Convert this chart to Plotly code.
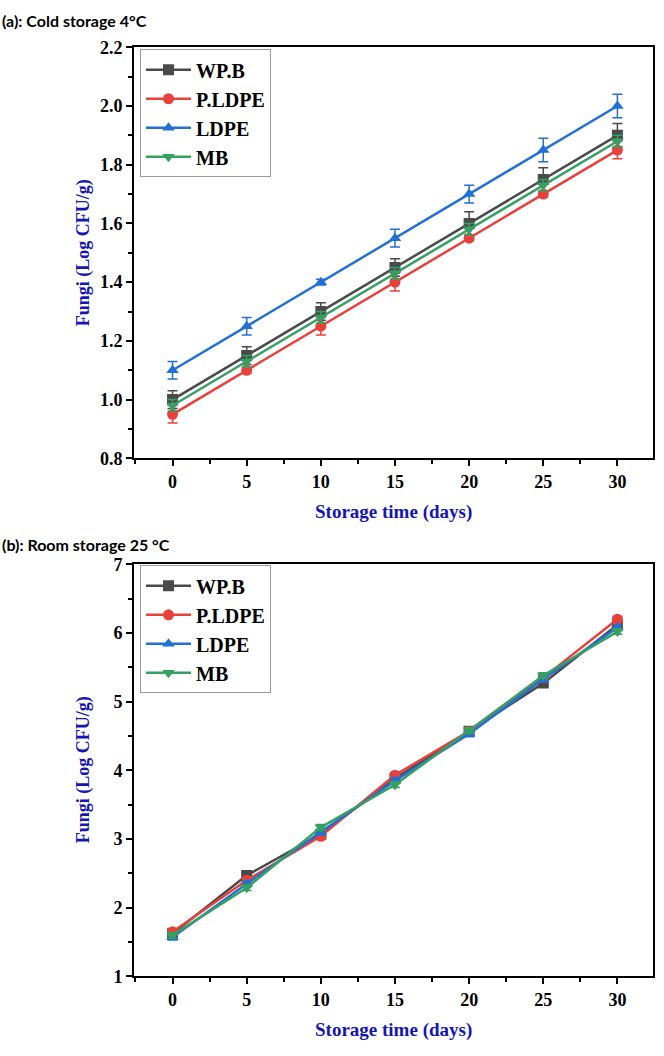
import plotly.graph_objects as go

days = [0, 5, 10, 15, 20, 25, 30]
series_names = ["WP.B", "P.LDPE", "LDPE", "MB"]

# (a) Cold storage 4 °C
cold_wpb = [1.00, 1.15, 1.30, 1.45, 1.60, 1.75, 1.90]
cold_pldpe = [0.95, 1.10, 1.25, 1.40, 1.55, 1.70, 1.85]
cold_ldpe = [1.10, 1.25, 1.40, 1.55, 1.70, 1.85, 2.00]
cold_mb = [0.98, 1.13, 1.28, 1.43, 1.58, 1.73, 1.88]
cold_wpb_err = [0.03, 0.03, 0.03, 0.03, 0.04, 0.04, 0.04]
cold_pldpe_err = [0.03, 0.01, 0.03, 0.03, 0.01, 0.01, 0.03]
cold_ldpe_err = [0.03, 0.03, 0.01, 0.03, 0.03, 0.04, 0.04]
cold_mb_err = [0.02, 0.02, 0.02, 0.02, 0.02, 0.02, 0.02]

# (b) Room storage 25 °C
room_wpb = [1.62, 2.47, 3.07, 3.88, 4.57, 5.27, 6.12]
room_pldpe = [1.65, 2.40, 3.04, 3.93, 4.57, 5.35, 6.20]
room_ldpe = [1.57, 2.35, 3.10, 3.85, 4.53, 5.33, 6.08]
room_mb = [1.60, 2.29, 3.17, 3.79, 4.58, 5.38, 6.02]
room_err = [0.04, 0.04, 0.04, 0.04, 0.04, 0.04, 0.04]

colors = ["#4a4a4a", "#e8413c", "#2270d6", "#35a062"]
symbols = ["square", "circle", "triangle-up", "triangle-down"]

W, H = 664, 1056
def px(v):
    return v / W
def py(v):
    return 1 - v / H

fig = go.Figure()

cold_vals = [cold_wpb, cold_pldpe, cold_ldpe, cold_mb]
cold_errs = [cold_wpb_err, cold_pldpe_err, cold_ldpe_err, cold_mb_err]
room_vals = [room_wpb, room_pldpe, room_ldpe, room_mb]

for i, name in enumerate(series_names):
    fig.add_trace(go.Scatter(
        x=days, y=cold_vals[i], name=name, mode="lines+markers",
        line=dict(color=colors[i], width=2.5),
        marker=dict(symbol=symbols[i], size=11, color=colors[i]),
        error_y=dict(type="data", array=cold_errs[i], color=colors[i], thickness=1.5, width=5),
        xaxis="x", yaxis="y", legend="legend",
    ))
for i, name in enumerate(series_names):
    fig.add_trace(go.Scatter(
        x=days, y=room_vals[i], name=name, mode="lines+markers",
        line=dict(color=colors[i], width=2.5),
        marker=dict(symbol=symbols[i], size=11, color=colors[i]),
        error_y=dict(type="data", array=room_err, color=colors[i], thickness=1.5, width=5),
        xaxis="x2", yaxis="y2", legend="legend2",
    ))

tickfont = dict(family="Liberation Serif", size=18, color="black", weight="bold")
axis_common = dict(
    showline=True, linecolor="black", linewidth=2, mirror=True,
    ticks="outside", ticklen=6, tickwidth=2, tickcolor="black",
    showgrid=False, zeroline=False, tickfont=tickfont,
)
minor_x = dict(ticks="outside", ticklen=4, tickwidth=2, tickcolor="black", dtick=2.5, tick0=0)
xdom = [px(134), px(653)]
legend_font = dict(family="Liberation Serif", size=20, color="black", weight="bold")

fig.update_layout(
    width=W, height=H, margin=dict(l=0, r=0, t=0, b=0),
    paper_bgcolor="white", plot_bgcolor="white",
    xaxis=dict(domain=xdom, range=[-2.6, 32.4], tickvals=days, minor=minor_x,
               anchor="y", **axis_common),
    yaxis=dict(domain=[py(457), py(38)], range=[0.8, 2.2], dtick=0.2, tickformat=".1f",
               minor=dict(ticks="outside", ticklen=4, tickwidth=2, tickcolor="black", dtick=0.1),
               anchor="x", **axis_common),
    xaxis2=dict(domain=xdom, range=[-2.6, 32.4], tickvals=days, minor=minor_x,
                anchor="y2", **axis_common),
    yaxis2=dict(domain=[py(985), py(565)], range=[1, 7], dtick=1,
                minor=dict(ticks="outside", ticklen=4, tickwidth=2, tickcolor="black", dtick=0.5),
                anchor="x2", **axis_common),
    legend=dict(x=px(140), y=py(40), xanchor="left", yanchor="top",
                bordercolor="#9a9a9a", borderwidth=1, bgcolor="white",
                font=legend_font, tracegroupgap=0, itemwidth=45),
    legend2=dict(x=px(140), y=py(566), xanchor="left", yanchor="top",
                 bordercolor="#9a9a9a", borderwidth=1, bgcolor="white",
                 font=legend_font, tracegroupgap=0, itemwidth=45),
    showlegend=True,
)

title_font = dict(family="Liberation Serif", size=19, color="#1515b5", weight="bold")
ytitle_font = dict(family="Liberation Serif", size=18, color="#1515b5", weight="bold")
head_font = dict(family="Lato", size=16, color="black", weight="bold")

annots = [
    dict(text="(a): Cold storage 4°C", x=0, y=py(11), xanchor="left", yanchor="middle", font=head_font),
    dict(text="(b): Room storage 25 °C", x=0, y=py(545), xanchor="left", yanchor="middle", font=head_font),
    dict(text="Storage time (days)", x=px(393), y=py(512), xanchor="center", yanchor="middle", font=title_font),
    dict(text="Storage time (days)", x=px(393), y=py(1040), xanchor="center", yanchor="middle", font=title_font),
    dict(text="Fungi (Log CFU/g)", x=px(83), y=py(248), xanchor="center", yanchor="middle", textangle=-90, font=ytitle_font),
    dict(text="Fungi (Log CFU/g)", x=px(83), y=py(775), xanchor="center", yanchor="middle", textangle=-90, font=ytitle_font),
]
for a in annots:
    fig.add_annotation(xref="paper", yref="paper", showarrow=False, **a)

fig.write_html("out.html")
